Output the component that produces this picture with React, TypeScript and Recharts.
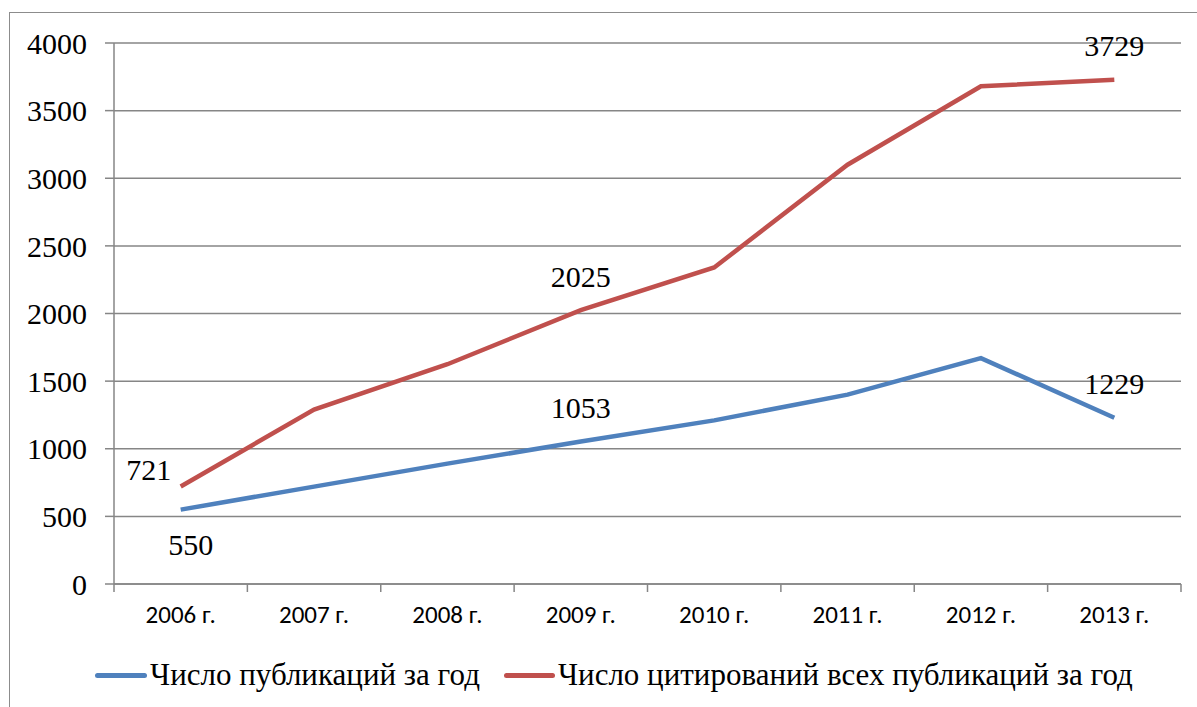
import React from "react";
import { LineChart, Line, XAxis, YAxis, CartesianGrid, LabelList } from "recharts";

// ---------------------------------------------------------------------------
// Data
// ---------------------------------------------------------------------------

const YEARS = ["2006 г.", "2007 г.", "2008 г.", "2009 г.", "2010 г.", "2011 г.", "2012 г.", "2013 г."];
const PUBLICATIONS = [550, 720, 890, 1053, 1210, 1400, 1670, 1229];
const CITATIONS = [721, 1290, 1625, 2025, 2340, 3100, 3680, 3729];
const Y_TICKS = [0, 500, 1000, 1500, 2000, 2500, 3000, 3500, 4000];
const LABELLED = [0, 3, 7];

const data = YEARS.map((year, i) => ({
  year,
  publications: PUBLICATIONS[i],
  citations: CITATIONS[i],
}));

// ---------------------------------------------------------------------------
// Layout
// ---------------------------------------------------------------------------

const WIDTH = 1197;
const HEIGHT = 707;
const PLOT_LEFT = 114;
const PLOT_RIGHT = 1181;
const BAND = (PLOT_RIGHT - PLOT_LEFT) / YEARS.length;

const BLUE = "#4F81BD";
const RED = "#C0504D";
const GRID = "#868686";
const SERIF = "Liberation Serif, DejaVu Serif, serif";
const SANS = "Carlito, Noto Sans, Open Sans, sans-serif";

function XTick(props: any) {
  const { x, y, payload, index } = props;
  const last = index === YEARS.length - 1;
  return (
    <g>
      <line x1={x - BAND / 2} x2={x - BAND / 2} y1={y} y2={y + 8} stroke={GRID} strokeWidth={1.5} />
      {last && <line x1={x + BAND / 2} x2={x + BAND / 2} y1={y} y2={y + 8} stroke={GRID} strokeWidth={1.5} />}
      <text x={x} y={y + 39} textAnchor="middle" fontFamily={SANS} fontSize={25} fill="#000">
        {payload.value}
      </text>
    </g>
  );
}

// value labels: first point gets its own offset, the others sit above the line
function makeLabel(firstDx: number, firstDy: number) {
  return (props: any) => {
    const { x, y, value, index } = props;
    if (!LABELLED.includes(index)) return null;
    const dx = index === 0 ? firstDx : 0;
    const dy = index === 0 ? firstDy : -34;
    return (
      <text
        x={x + dx}
        y={y + dy}
        dy="0.355em"
        textAnchor="middle"
        fontFamily={SERIF}
        fontSize={30}
        fill="#000"
      >
        {value}
      </text>
    );
  };
}

function LegendItem({ color, label, lineWidth }: { color: string; label: string; lineWidth: number }) {
  return (
    <div style={{ display: "flex", alignItems: "center" }}>
      <span
        style={{ display: "inline-block", width: lineWidth, height: 5, borderRadius: 3, background: color, marginRight: 3 }}
      />
      <span>{label}</span>
    </div>
  );
}

export default function App() {
  return (
    <div style={{ position: "absolute", left: 0, top: 0, width: WIDTH, height: HEIGHT, background: "#fff", overflow: "hidden" }}>
      <div
        style={{
          position: "absolute",
          left: 9,
          top: 12,
          width: WIDTH,
          height: HEIGHT,
          border: "1.5px solid #8c8c8c",
        }}
      />
      <div style={{ position: "absolute", left: 0, top: 0 }}>
        <LineChart
          width={WIDTH}
          height={HEIGHT}
          data={data}
          margin={{ top: 43, right: WIDTH - PLOT_RIGHT, left: 0, bottom: 83 }}
        >
          <CartesianGrid vertical={false} stroke={GRID} strokeWidth={1.5} />
          <XAxis
            dataKey="year"
            height={40}
            padding={{ left: BAND / 2, right: BAND / 2 }}
            tickLine={false}
            tickSize={0}
            tickMargin={0}
            axisLine={{ stroke: GRID, strokeWidth: 1.5 }}
            tick={<XTick />}
            interval={0}
          />
          <YAxis
            width={PLOT_LEFT}
            domain={[0, 4000]}
            ticks={Y_TICKS}
            tickSize={9}
            tickMargin={18}
            axisLine={{ stroke: GRID, strokeWidth: 1.5 }}
            tickLine={{ stroke: GRID, strokeWidth: 1.5 }}
            tick={{ fontFamily: SERIF, fontSize: 30, fill: "#000" }}
          />
          <Line
            dataKey="publications"
            stroke={BLUE}
            strokeWidth={4.5}
            dot={false}
            isAnimationActive={false}
          >
            <LabelList dataKey="publications" content={makeLabel(10, 35)} />
          </Line>
          <Line
            dataKey="citations"
            stroke={RED}
            strokeWidth={4.5}
            dot={false}
            isAnimationActive={false}
          >
            <LabelList dataKey="citations" content={makeLabel(-32, -17)} />
          </Line>
        </LineChart>
      </div>
      <div
        style={{
          position: "absolute",
          left: 95,
          top: 657,
          display: "flex",
          gap: 24,
          fontFamily: SERIF,
          fontSize: 31,
          color: "#000",
          lineHeight: "36px",
        }}
      >
        <LegendItem color={BLUE} label="Число публикаций за год" lineWidth={52} />
        <LegendItem color={RED} label="Число цитирований всех публикаций за год" lineWidth={51} />
      </div>
    </div>
  );
}
